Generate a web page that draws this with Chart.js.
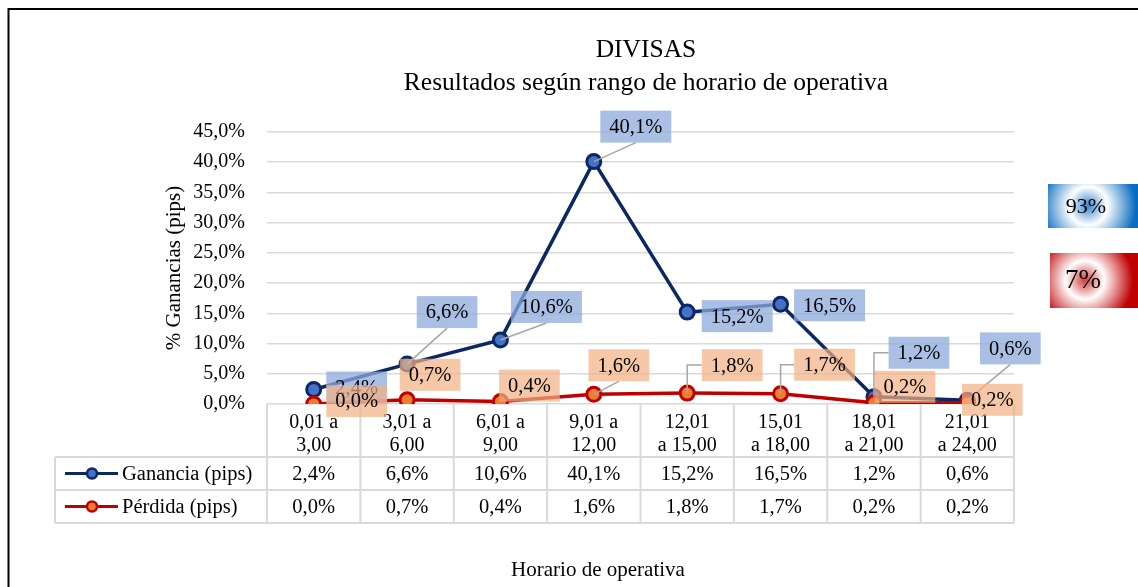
<!DOCTYPE html>
<html>
<head>
<meta charset="utf-8">
<script src="https://cdn.jsdelivr.net/npm/chart.js@4"></script>
<style>
  html, body { margin: 0; padding: 0; background: #fff; }
  #wrap { width: 1138px; height: 587px; position: relative; }
</style>
</head>
<body>
<div id="wrap"><canvas id="chart1"></canvas></div>
<script>
// datos
const horarios = [
  ['0,01 a', '3,00'], ['3,01 a', '6,00'], ['6,01 a', '9,00'], ['9,01 a', '12,00'],
  ['12,01', 'a 15,00'], ['15,01', 'a 18,00'], ['18,01', 'a 21,00'], ['21,01', 'a 24,00']
];
const ganancia = [2.4, 6.6, 10.6, 40.1, 15.2, 16.5, 1.2, 0.6];
const perdida = [0.0, 0.7, 0.4, 1.6, 1.8, 1.7, 0.2, 0.2];
const totales = ['93%', '7%'];
const titulo = ['DIVISAS', 'Resultados según rango de horario de operativa'];
const tituloX = 'Horario de operativa';

const FONT = '"Liberation Serif", "Times New Roman", serif';
const pct = v => v.toFixed(1).replace('.', ',') + '%';

// posicion de las etiquetas respecto al punto (px) y tipo de linea guia
const etiquetasGan = [
  { dx: 43, dy: -2, guia: '' },
  { dx: 40, dy: -52, guia: 'diag' },
  { dx: 46, dy: -33, guia: 'diag' },
  { dx: 42, dy: -35, guia: 'diag' },
  { dx: 50, dy: 4, guia: '' },
  { dx: 49, dy: 1, guia: '' },
  { dx: 45, dy: -44, guia: 'codo' },
  { dx: 43, dy: -52, guia: 'diag' }
];
const etiquetasPer = [
  { dx: 43, dy: -3, guia: '' },
  { dx: 23, dy: -25, guia: '' },
  { dx: 29, dy: -16, guia: '' },
  { dx: 25, dy: -29, guia: 'diag' },
  { dx: 45, dy: -28, guia: 'codo' },
  { dx: 44, dy: -29, guia: 'codo' },
  { dx: 31, dy: -16, guia: '' },
  { dx: 25, dy: -3, guia: '' }
];

const series = [
  { label: 'Ganancia (pips)', data: ganancia, line: '#0b2865', fill: '#4472c4', box: 'rgba(142,169,219,0.75)', etq: etiquetasGan },
  { label: 'Pérdida (pips)', data: perdida, line: '#c00000', fill: '#ed7d31', box: 'rgba(244,177,131,0.7)', etq: etiquetasPer }
];

const fondo = {
  id: 'fondo',
  beforeDraw(chart) {
    const ctx = chart.ctx;
    ctx.save();
    ctx.fillStyle = '#fff';
    ctx.fillRect(0, 0, chart.width, chart.height);
    ctx.fillStyle = '#000';
    ctx.textAlign = 'center';
    ctx.textBaseline = 'middle';
    // titulo
    ctx.font = '25.5px ' + FONT;
    titulo.forEach((t, i) => ctx.fillText(t, 646, 50 + i * 33));
    // titulo del eje horizontal
    ctx.font = '21px ' + FONT;
    ctx.fillText(tituloX, 598, 570);
    ctx.restore();
  },
  afterDraw(chart) {
    const ctx = chart.ctx;
    ctx.save();
    ctx.strokeStyle = '#000';
    ctx.lineWidth = 2;
    ctx.strokeRect(8.5, 9, chart.width + 20, chart.height + 20);
    ctx.restore();
  }
};

// tabla de datos bajo el eje
const tabla = {
  id: 'tabla',
  beforeDatasetsDraw(chart) {
    const ctx = chart.ctx;
    const x = chart.scales.x;
    const area = chart.chartArea;
    const colW = (area.right - area.left) / horarios.length;
    const rows = [area.bottom, 457, 490, 523];
    ctx.save();
    ctx.strokeStyle = '#d9d9d9';
    ctx.lineWidth = 2;
    ctx.beginPath();
    for (let i = 1; i < rows.length; i++) {
      ctx.moveTo(55, rows[i]);
      ctx.lineTo(area.right, rows[i]);
    }
    ctx.moveTo(55, rows[1]);
    ctx.lineTo(55, rows[3]);
    for (let k = 0; k <= horarios.length; k++) {
      const xx = area.left + k * colW;
      ctx.moveTo(xx, rows[0]);
      ctx.lineTo(xx, rows[3]);
    }
    ctx.stroke();

    ctx.font = '20.5px ' + FONT;
    ctx.fillStyle = '#000';
    ctx.textBaseline = 'middle';
    series.forEach((s, r) => {
      const cy = (rows[r + 1] + rows[r + 2]) / 2;
      // clave de leyenda
      ctx.strokeStyle = s.line;
      ctx.lineWidth = 3;
      ctx.beginPath();
      ctx.moveTo(65, cy);
      ctx.lineTo(118, cy);
      ctx.stroke();
      ctx.beginPath();
      ctx.arc(92, cy, 5, 0, Math.PI * 2);
      ctx.fillStyle = s.fill;
      ctx.fill();
      ctx.lineWidth = 2.5;
      ctx.stroke();
      ctx.fillStyle = '#000';
      ctx.textAlign = 'left';
      ctx.fillText(s.label, 122, cy + 1);
      ctx.textAlign = 'center';
      s.data.forEach((v, i) => {
        ctx.fillText(pct(v), x.getPixelForValue(i), cy + 1);
      });
    });
    ctx.restore();
  }
};

// etiquetas de datos con lineas guia
const etiquetas = {
  id: 'etiquetas',
  afterDatasetsDraw(chart) {
    const ctx = chart.ctx;
    ctx.save();
    ctx.font = '20.5px ' + FONT;
    ctx.textAlign = 'center';
    ctx.textBaseline = 'middle';
    series.forEach((s, d) => {
      const meta = chart.getDatasetMeta(d);
      meta.data.forEach((p, i) => {
        const e = s.etq[i];
        const txt = pct(s.data[i]);
        const w = ctx.measureText(txt).width + 18;
        const h = 32;
        const cx = p.x + e.dx, cy = p.y + e.dy;
        if (e.guia) {
          ctx.strokeStyle = '#a6a6a6';
          ctx.lineWidth = 1.5;
          ctx.beginPath();
          ctx.moveTo(p.x, p.y);
          if (e.guia === 'codo') {
            ctx.lineTo(p.x, cy);
            ctx.lineTo(cx - w / 2, cy);
          } else {
            ctx.lineTo(cx, cy + h / 2);
          }
          ctx.stroke();
        }
        ctx.fillStyle = s.box;
        ctx.fillRect(cx - w / 2, cy - h / 2, w, h);
        ctx.fillStyle = '#000';
        ctx.fillText(txt, cx, cy + 1);
      });
    });
    ctx.restore();
  }
};

// recuadros con degradado a la derecha
const cajas = {
  id: 'cajas',
  afterDraw(chart) {
    const ctx = chart.ctx;
    const defs = [
      { txt: totales[0], x: 1048, y: 184, w: 100, h: 44, cx: 1088, cy: 206, size: 22, c0: '#3a85cd', c1: '#0a6cc0' },
      { txt: totales[1], x: 1050, y: 253, w: 100, h: 55, cx: 1085, cy: 280, size: 27, c0: '#d23a3a', c1: '#c00000' }
    ];
    ctx.save();
    defs.forEach(b => {
      const g = ctx.createRadialGradient(b.cx, b.cy, 0, b.cx, b.cy, 48);
      g.addColorStop(0, b.c0);
      g.addColorStop(0.4, '#ffffff');
      g.addColorStop(1, b.c1);
      ctx.fillStyle = g;
      ctx.fillRect(b.x, b.y, b.w, b.h);
      ctx.fillStyle = '#000';
      ctx.font = b.size + 'px ' + FONT;
      ctx.textAlign = 'center';
      ctx.textBaseline = 'middle';
      ctx.fillText(b.txt, b.cx - 2, b.cy + 1);
    });
    ctx.restore();
  }
};

Chart.defaults.font.family = FONT;
Chart.defaults.color = '#000';

const chart1 = document.getElementById('chart1').getContext('2d');
new Chart(chart1, {
  type: 'line',
  data: {
    labels: horarios,
    datasets: series.map((s, d) => ({
      label: s.label,
      data: s.data,
      borderColor: s.line,
      borderWidth: 3.5,
      pointRadius: 7,
      pointBorderWidth: 3,
      pointBackgroundColor: s.fill,
      pointBorderColor: s.line,
      tension: 0,
      order: 2 - d
    }))
  },
  options: {
    responsive: true,
    maintainAspectRatio: false,
    animation: false,
    layout: { padding: { left: 0, top: 132, right: 124, bottom: 0 } },
    plugins: {
      legend: { display: false },
      tooltip: { enabled: false },
      title: { display: false }
    },
    scales: {
      x: {
        offset: true,
        grid: { display: false },
        border: { display: false },
        ticks: { autoSkip: false, maxRotation: 0, padding: -1, font: { size: 20, lineHeight: 1.15 } },
        afterFit: s => { s.height = 183; }
      },
      y: {
        min: 0,
        max: 45,
        ticks: { stepSize: 5, padding: 22, font: { size: 20 }, callback: v => pct(v) },
        grid: { color: '#d9d9d9', lineWidth: 1.5, drawTicks: false },
        border: { display: false },
        title: { display: true, text: '% Ganancias (pips)', font: { size: 21, lineHeight: 1.2 }, padding: { top: 162, bottom: 0 } },
        afterFit: s => { s.width = 267; }
      }
    }
  },
  plugins: [fondo, tabla, etiquetas, cajas]
});
</script>
</body>
</html>
